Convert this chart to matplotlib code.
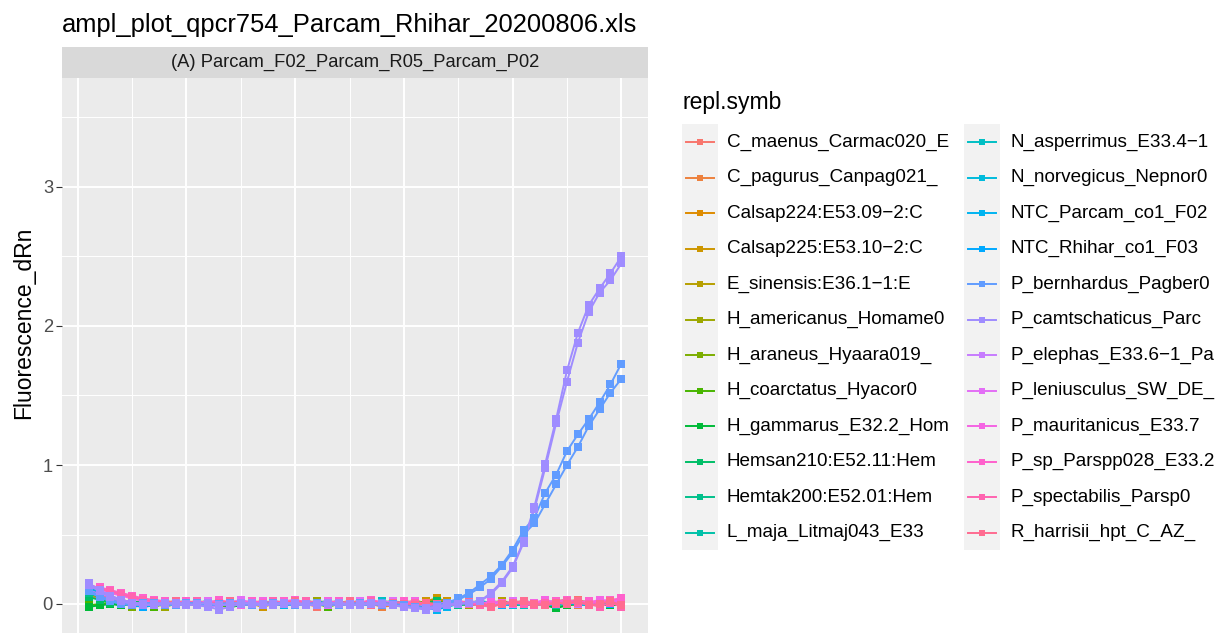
import numpy as np
import matplotlib
matplotlib.use("Agg")
import matplotlib.pyplot as plt
from matplotlib.patches import Rectangle

plt.rcParams["font.family"] = ["Liberation Sans", "DejaVu Sans"]

W, H = 1218, 633

CYCLES = np.arange(1, 51)

LABELS = [
    "C_maenus_Carmac020_E", "C_pagurus_Canpag021_", "Calsap224:E53.09\u22122:C",
    "Calsap225:E53.10\u22122:C", "E_sinensis:E36.1\u22121:E", "H_americanus_Homame0",
    "H_araneus_Hyaara019_", "H_coarctatus_Hyacor0", "H_gammarus_E32.2_Hom",
    "Hemsan210:E52.11:Hem", "Hemtak200:E52.01:Hem", "L_maja_Litmaj043_E33",
    "N_asperrimus_E33.4\u22121", "N_norvegicus_Nepnor0", "NTC_Parcam_co1_F02",
    "NTC_Rhihar_co1_F03", "P_bernhardus_Pagber0", "P_camtschaticus_Parc",
    "P_elephas_E33.6\u22121_Pa", "P_leniusculus_SW_DE_", "P_mauritanicus_E33.7",
    "P_sp_Parspp028_E33.2", "P_spectabilis_Parsp0", "R_harrisii_hpt_C_AZ_",
]

# fluorescence per cycle (1..50), one list per well
C_MAENUS = [
    0.08, 0.05, 0.03, 0.02, 0.01, 0.00, 0.01, -0.01, 0.00, 0.02,
    0.01, 0.00, -0.01, 0.01, 0.02, 0.00, -0.01, 0.01, 0.02, 0.01,
    0.00, -0.02, 0.01, 0.02, 0.00, -0.01, 0.01, 0.00, 0.02, 0.01,
    -0.01, -0.02, 0.00, 0.01, 0.02, 0.01, 0.00, -0.02, 0.01, 0.00,
    0.02, 0.01, -0.01, 0.00, 0.02, 0.03, 0.01, 0.00, 0.02, 0.03]
C_PAGURUS = [
    0.06, 0.04, 0.02, 0.01, -0.01, 0.00, 0.02, 0.01, -0.01, 0.00,
    0.01, 0.02, 0.00, -0.01, 0.00, 0.01, 0.02, 0.00, -0.01, 0.01,
    0.02, 0.01, 0.00, -0.01, 0.01, 0.02, 0.00, -0.02, -0.01, 0.01,
    0.02, 0.01, -0.01, 0.00, 0.01, 0.00, -0.01, 0.01, 0.02, 0.00,
    -0.01, 0.01, 0.02, 0.01, 0.00, -0.01, 0.01, 0.02, 0.00, 0.01]
CALSAP224 = [
    0.12, 0.08, 0.05, 0.03, 0.01, 0.00, -0.01, 0.01, 0.02, 0.00,
    -0.01, 0.00, 0.02, 0.01, -0.01, 0.00, 0.01, 0.02, 0.00, -0.01,
    0.01, 0.02, 0.01, 0.00, -0.01, 0.01, 0.02, 0.01, 0.00, 0.02,
    0.01, -0.01, 0.00, 0.02, 0.01, 0.00, 0.01, -0.01, 0.00, 0.01,
    0.02, 0.00, -0.01, 0.01, 0.02, 0.01, 0.00, 0.01, -0.01, 0.00]
CALSAP225 = [
    0.10, 0.07, 0.04, 0.02, 0.01, -0.01, 0.00, 0.02, 0.01, 0.00,
    0.02, 0.01, -0.01, 0.00, 0.01, 0.00, -0.02, 0.00, 0.01, 0.02,
    0.01, 0.00, 0.02, 0.01, -0.01, 0.00, 0.01, 0.02, 0.00, -0.01,
    0.00, 0.02, 0.04, 0.02, 0.01, 0.00, -0.01, 0.01, 0.02, 0.00,
    0.01, -0.01, 0.00, 0.02, 0.01, 0.00, 0.02, 0.01, 0.00, 0.01]
E_SINENSIS = [
    0.09, 0.06, 0.03, 0.01, 0.00, -0.02, -0.01, 0.00, 0.01, 0.02,
    0.00, -0.01, 0.01, 0.00, 0.01, 0.02, 0.00, -0.01, 0.00, 0.02,
    0.01, -0.01, 0.00, 0.01, 0.02, 0.00, 0.01, -0.01, 0.00, 0.01,
    0.02, 0.01, 0.03, 0.01, 0.00, -0.01, 0.01, 0.00, 0.02, 0.01,
    0.00, 0.01, -0.01, 0.01, 0.02, 0.01, 0.00, 0.02, 0.01, 0.00]
H_AMERICANUS = [
    0.07, 0.05, 0.02, 0.00, -0.01, 0.00, 0.01, -0.02, 0.00, 0.01,
    0.02, 0.00, 0.01, -0.01, 0.00, 0.02, 0.01, 0.00, -0.01, 0.01,
    0.00, 0.02, 0.01, -0.01, 0.00, 0.01, 0.00, 0.02, 0.01, 0.00,
    -0.01, 0.01, 0.02, 0.00, 0.01, -0.01, 0.00, 0.01, 0.00, 0.02,
    0.01, 0.00, 0.01, 0.02, 0.03, 0.01, 0.00, 0.01, 0.02, 0.01]
H_ARANEUS = [
    0.11, 0.07, 0.04, 0.01, -0.02, -0.01, 0.00, 0.01, -0.01, 0.00,
    0.01, 0.00, -0.02, -0.01, 0.01, 0.00, 0.01, -0.01, 0.00, 0.02,
    0.00, 0.01, -0.01, 0.00, 0.01, 0.02, 0.00, -0.01, 0.01, 0.00,
    0.02, 0.01, 0.00, -0.01, 0.00, 0.01, 0.02, 0.00, 0.01, -0.01,
    0.00, 0.01, 0.00, 0.02, 0.01, 0.00, -0.01, 0.01, 0.00, 0.01]
H_COARCTATUS = [
    -0.01, 0.00, 0.01, -0.01, 0.00, 0.01, -0.02, 0.00, 0.01, 0.00,
    -0.01, 0.01, 0.00, -0.02, -0.01, 0.00, 0.01, 0.00, -0.01, 0.00,
    0.01, 0.00, -0.02, 0.00, 0.01, -0.01, 0.00, 0.01, 0.00, -0.01,
    0.00, 0.01, -0.01, 0.00, 0.01, 0.00, -0.01, 0.00, 0.01, 0.00,
    -0.01, 0.00, 0.01, 0.00, -0.01, 0.01, 0.00, -0.01, 0.00, 0.01]
H_GAMMARUS = [
    -0.02, -0.01, 0.00, -0.01, 0.00, 0.01, 0.00, -0.01, 0.00, 0.01,
    0.00, -0.01, 0.00, -0.02, -0.01, 0.00, 0.00, -0.01, 0.01, 0.00,
    -0.01, 0.00, 0.01, 0.00, -0.01, 0.00, 0.01, -0.01, 0.00, 0.00,
    0.01, 0.00, -0.01, 0.00, 0.01, 0.00, -0.01, 0.00, 0.01, 0.00,
    -0.01, 0.00, -0.01, -0.03, -0.01, 0.00, 0.01, 0.00, -0.01, 0.00]
HEMSAN210 = [
    0.05, 0.03, 0.01, 0.00, 0.02, 0.01, -0.01, 0.00, 0.01, 0.02,
    0.00, -0.01, 0.00, 0.01, 0.02, 0.01, 0.00, -0.01, 0.01, 0.00,
    0.02, 0.01, 0.00, 0.01, -0.01, 0.00, 0.02, 0.01, 0.00, -0.01,
    0.00, 0.01, 0.02, 0.00, -0.01, 0.01, 0.00, 0.02, 0.01, 0.00,
    0.01, -0.01, 0.00, 0.01, 0.02, 0.00, 0.01, -0.01, 0.00, 0.01]
HEMTAK200 = [
    0.08, 0.05, 0.02, 0.00, -0.01, 0.01, 0.02, 0.00, -0.01, 0.00,
    0.01, 0.02, 0.00, 0.01, -0.01, 0.00, 0.01, 0.00, 0.02, 0.01,
    -0.01, 0.00, 0.01, 0.02, 0.00, -0.01, 0.00, 0.01, 0.02, 0.00,
    0.01, -0.01, 0.00, 0.01, -0.01, 0.00, 0.02, 0.01, 0.00, 0.01,
    -0.01, 0.00, 0.01, 0.02, 0.00, 0.01, 0.00, -0.01, 0.01, 0.02]
L_MAJA = [
    0.10, 0.07, 0.04, 0.02, 0.00, 0.01, -0.01, 0.00, 0.02, 0.01,
    0.00, 0.02, 0.01, -0.01, 0.00, 0.01, 0.00, 0.02, 0.01, 0.00,
    -0.01, 0.01, 0.02, 0.00, 0.01, 0.00, -0.01, 0.01, 0.02, 0.00,
    0.01, 0.00, -0.02, 0.00, 0.01, 0.02, 0.00, -0.01, 0.01, 0.00,
    0.02, 0.01, 0.00, -0.01, 0.00, 0.01, 0.02, 0.00, 0.01, 0.00]
N_ASPERRIMUS = [
    0.12, 0.08, 0.05, 0.03, 0.01, 0.00, 0.02, 0.01, -0.01, 0.00,
    0.01, 0.02, 0.00, -0.01, 0.01, 0.00, 0.02, 0.01, 0.00, -0.01,
    0.00, 0.01, 0.02, 0.00, 0.01, -0.01, 0.00, 0.02, 0.01, 0.00,
    -0.01, -0.02, -0.03, -0.01, 0.00, 0.01, 0.02, 0.00, 0.01, 0.00,
    -0.01, 0.01, 0.00, 0.02, 0.01, 0.00, -0.01, 0.01, 0.00, 0.02]
N_NORVEGICUS = [
    0.09, 0.05, 0.03, 0.01, 0.00, -0.01, 0.00, 0.02, 0.01, 0.00,
    -0.01, 0.01, 0.00, 0.02, 0.01, -0.01, 0.00, 0.01, 0.00, 0.02,
    0.01, 0.00, -0.01, 0.00, 0.01, 0.02, 0.00, 0.01, -0.01, 0.00,
    0.01, -0.01, -0.02, 0.00, 0.01, 0.00, 0.02, 0.01, 0.00, -0.01,
    0.01, 0.00, 0.02, 0.01, 0.00, 0.01, -0.01, 0.00, 0.01, 0.02]
NTC_PARCAM = [
    0.13, 0.09, 0.05, 0.02, 0.00, -0.02, 0.00, 0.01, 0.00, -0.01,
    0.01, 0.00, -0.01, 0.01, 0.00, -0.01, 0.00, 0.01, -0.01, 0.00,
    0.01, 0.00, -0.01, 0.00, 0.01, 0.00, -0.01, 0.00, 0.01, -0.01,
    -0.02, -0.03, -0.04, -0.02, 0.00, 0.01, 0.00, -0.01, 0.00, 0.01,
    0.00, -0.01, 0.01, 0.00, 0.01, 0.00, -0.01, 0.01, 0.00, 0.01]
NTC_RHIHAR = [
    0.11, 0.07, 0.04, 0.01, -0.01, -0.02, -0.01, 0.00, 0.01, 0.00,
    -0.01, 0.00, 0.01, 0.00, -0.01, 0.00, 0.01, -0.01, 0.00, 0.00,
    0.01, -0.01, 0.00, 0.01, 0.00, -0.01, 0.00, 0.01, 0.00, -0.01,
    -0.02, -0.03, -0.03, -0.01, 0.00, 0.01, 0.00, 0.01, -0.01, 0.00,
    0.01, 0.00, -0.01, 0.00, 0.01, 0.00, 0.01, 0.00, 0.00, 0.01]
P_BERNHARDUS_1 = [
    0.10, 0.06, 0.03, 0.01, -0.01, 0.00, 0.01, 0.00, -0.01, 0.00,
    0.01, 0.00, -0.01, 0.00, 0.01, 0.00, -0.01, 0.00, 0.01, 0.00,
    -0.01, 0.00, 0.01, 0.00, -0.01, 0.00, 0.00, 0.01, 0.00, -0.01,
    -0.02, -0.03, -0.01, 0.01, 0.04, 0.08, 0.14, 0.20, 0.28, 0.39,
    0.53, 0.62, 0.80, 0.93, 1.10, 1.22, 1.33, 1.45, 1.58, 1.73]
P_BERNHARDUS_2 = [
    0.09, 0.05, 0.02, 0.00, -0.01, 0.01, 0.00, -0.01, 0.00, 0.01,
    0.00, -0.01, 0.00, 0.01, 0.00, -0.01, 0.00, 0.01, 0.00, -0.01,
    0.00, 0.01, 0.00, -0.01, 0.00, 0.01, 0.00, -0.01, 0.00, -0.01,
    -0.02, -0.03, -0.02, 0.00, 0.03, 0.07, 0.12, 0.18, 0.27, 0.37,
    0.50, 0.58, 0.72, 0.86, 1.00, 1.13, 1.28, 1.40, 1.52, 1.62]
P_CAMTSCHATICUS_1 = [
    0.15, 0.10, 0.06, 0.03, 0.01, 0.00, -0.01, 0.00, 0.01, 0.00,
    -0.01, -0.02, -0.04, -0.02, 0.00, 0.01, 0.00, -0.01, 0.00, 0.01,
    0.00, -0.01, 0.00, 0.01, 0.00, -0.01, 0.00, 0.00, -0.01, -0.02,
    -0.03, -0.04, -0.03, -0.01, 0.00, 0.01, 0.02, 0.08, 0.16, 0.27,
    0.45, 0.70, 1.01, 1.33, 1.68, 1.95, 2.15, 2.27, 2.38, 2.50]
P_CAMTSCHATICUS_2 = [
    0.14, 0.09, 0.05, 0.02, 0.00, -0.01, 0.00, 0.01, 0.00, -0.01,
    0.00, 0.01, -0.01, 0.00, 0.01, 0.00, -0.01, 0.00, 0.01, 0.00,
    -0.01, 0.00, 0.01, 0.00, -0.01, 0.00, 0.01, 0.00, -0.01, -0.02,
    -0.03, -0.03, -0.02, 0.00, 0.00, 0.01, 0.02, 0.07, 0.15, 0.26,
    0.44, 0.68, 0.98, 1.30, 1.60, 1.88, 2.10, 2.24, 2.33, 2.45]
P_ELEPHAS = [
    0.15, 0.10, 0.06, 0.03, 0.01, 0.00, -0.01, 0.00, 0.02, 0.01,
    0.00, -0.02, -0.01, 0.00, 0.01, 0.00, -0.01, 0.01, 0.02, 0.00,
    -0.01, 0.00, 0.01, 0.00, 0.02, 0.01, 0.00, -0.01, 0.00, 0.01,
    0.00, -0.01, 0.00, 0.01, 0.02, 0.00, -0.01, 0.01, 0.00, 0.02,
    0.01, 0.00, -0.01, 0.01, 0.02, 0.00, 0.01, 0.02, 0.01, 0.02]
P_LENIUSCULUS = [
    0.10, 0.07, 0.05, 0.03, 0.01, 0.00, 0.02, 0.01, 0.00, -0.01,
    0.01, 0.02, 0.00, 0.01, 0.03, 0.01, 0.00, 0.02, 0.01, 0.00,
    0.02, 0.01, -0.01, 0.00, 0.01, 0.02, 0.00, 0.01, 0.02, 0.00,
    0.01, -0.01, 0.00, 0.01, 0.02, 0.00, 0.01, -0.01, 0.00, 0.02,
    0.01, 0.00, 0.02, 0.01, 0.03, 0.01, 0.00, 0.02, 0.03, 0.02]
P_MAURITANICUS = [
    0.14, 0.11, 0.08, 0.06, 0.04, 0.02, 0.01, 0.00, 0.02, 0.01,
    0.00, 0.01, 0.02, 0.00, -0.01, 0.01, 0.02, 0.00, 0.01, 0.03,
    0.01, 0.00, 0.02, 0.01, -0.01, 0.00, 0.02, 0.01, 0.00, 0.01,
    0.02, 0.00, -0.01, 0.01, 0.02, 0.01, 0.00, 0.02, 0.01, 0.00,
    0.02, 0.01, 0.03, 0.01, 0.00, 0.02, 0.01, 0.03, 0.02, 0.01]
P_SP = [
    0.13, 0.12, 0.10, 0.08, 0.06, 0.04, 0.03, 0.02, 0.01, 0.02,
    0.00, 0.01, 0.03, 0.01, 0.00, 0.02, 0.01, 0.00, 0.02, 0.03,
    0.01, 0.00, 0.01, 0.02, 0.00, 0.01, 0.03, 0.01, 0.00, 0.02,
    0.01, 0.00, -0.01, 0.01, 0.00, 0.02, 0.01, -0.01, 0.00, 0.01,
    0.02, 0.00, 0.01, 0.02, 0.03, 0.01, 0.02, 0.00, 0.03, 0.04]
P_SPECTABILIS = [
    0.12, 0.11, 0.09, 0.07, 0.05, 0.03, 0.02, 0.01, 0.00, 0.01,
    0.02, 0.00, 0.01, 0.02, 0.00, -0.01, 0.00, 0.02, 0.01, 0.00,
    0.02, 0.01, 0.00, -0.01, 0.01, 0.00, 0.02, 0.00, -0.01, 0.00,
    0.01, 0.00, -0.02, 0.00, 0.01, 0.00, -0.01, -0.02, 0.00, 0.01,
    0.00, -0.01, 0.01, 0.00, 0.02, 0.01, 0.00, -0.02, 0.01, -0.02]
R_HARRISII = [
    0.09, 0.06, 0.04, 0.02, 0.00, -0.01, 0.00, 0.01, 0.02, 0.00,
    -0.01, 0.01, 0.00, 0.02, 0.01, 0.00, -0.01, 0.00, 0.01, 0.02,
    0.00, -0.01, 0.01, 0.00, 0.02, 0.01, -0.01, 0.00, 0.01, 0.00,
    -0.01, 0.01, 0.00, -0.01, 0.00, 0.02, 0.01, -0.02, 0.00, 0.01,
    0.02, 0.00, -0.01, 0.01, 0.00, 0.02, -0.01, 0.00, 0.02, -0.01]

# (legend index, values) per well
WELLS = [
    (0, C_MAENUS), (1, C_PAGURUS), (2, CALSAP224), (3, CALSAP225),
    (4, E_SINENSIS), (5, H_AMERICANUS), (6, H_ARANEUS), (7, H_COARCTATUS),
    (8, H_GAMMARUS), (9, HEMSAN210), (10, HEMTAK200), (11, L_MAJA),
    (12, N_ASPERRIMUS), (13, N_NORVEGICUS), (14, NTC_PARCAM), (15, NTC_RHIHAR),
    (18, P_ELEPHAS), (19, P_LENIUSCULUS), (20, P_MAURITANICUS), (21, P_SP),
    (22, P_SPECTABILIS), (23, R_HARRISII),
    (16, P_BERNHARDUS_1), (16, P_BERNHARDUS_2),
    (17, P_CAMTSCHATICUS_1), (17, P_CAMTSCHATICUS_2),
]


def hcl_hex(h, c=100.0, l=65.0):
    # polar Luv -> sRGB, same as R's hcl()
    hr = np.deg2rad(h)
    u, v = c * np.cos(hr), c * np.sin(hr)
    xn, yn, zn = 95.047, 100.0, 108.883
    un = 4 * xn / (xn + 15 * yn + 3 * zn)
    vn = 9 * yn / (xn + 15 * yn + 3 * zn)
    y = yn * ((l + 16) / 116) ** 3
    up = u / (13 * l) + un
    vp = v / (13 * l) + vn
    x = 9 * y * up / (4 * vp)
    z = -x / 3 - 5 * y + 3 * y / vp
    m = np.array([[3.240479, -1.537150, -0.498535],
                  [-0.969256, 1.875992, 0.041556],
                  [0.055648, -0.204043, 1.057311]])
    rgb = m @ np.array([x, y, z]) / 100
    out = []
    for ch in rgb:
        ch = 1.055 * ch ** (1 / 2.4) - 0.055 if ch > 0.0031308 else 12.92 * ch
        out.append(min(max(ch, 0), 1))
    return tuple(out)


HUES = np.linspace(15, 375, len(LABELS) + 1)[:-1]
PALETTE = [hcl_hex(h) for h in HUES]

# pixel layout of the panel
PX_LEFT, PX_RIGHT, PX_TOP = 62, 648, 78
Y0_PX, PX_PER_UNIT = 604, 139
YMIN, YMAX = -0.25, (Y0_PX - PX_TOP) / PX_PER_UNIT
px_bottom = Y0_PX - YMIN * PX_PER_UNIT

fig = plt.figure(figsize=(W / 100, H / 100), dpi=100)
fig.patch.set_facecolor("white")

ax = fig.add_axes([PX_LEFT / W, (H - px_bottom) / H,
                   (PX_RIGHT - PX_LEFT) / W, (px_bottom - PX_TOP) / H])
ax.set_facecolor("#EBEBEB")
for s in ax.spines.values():
    s.set_visible(False)
ax.set_xlim(-1.45, 52.45)
ax.set_ylim(YMIN, YMAX)
ax.set_xticks([0, 10, 20, 30, 40, 50])
ax.set_xticks([5, 15, 25, 35, 45], minor=True)
ax.set_yticks([0, 1, 2, 3])
ax.set_yticks([0.5, 1.5, 2.5, 3.5], minor=True)
ax.grid(which="major", color="white", linewidth=1.4)
ax.grid(which="minor", color="white", linewidth=0.7)
ax.set_axisbelow(True)
ax.tick_params(axis="x", which="both", length=0, labelbottom=False)
ax.tick_params(axis="y", which="major", length=4, width=0.8, color="#333333",
               labelsize=13.2, labelcolor="#4D4D4D", pad=2.5)
ax.tick_params(axis="y", which="minor", length=0)

for idx, vals in WELLS:
    ax.plot(CYCLES, vals, color=PALETTE[idx], linewidth=1.4, zorder=2)
for idx, vals in WELLS:
    ax.plot(CYCLES, vals, color=PALETTE[idx], linestyle="none", marker="s",
            markersize=5.6, markeredgewidth=0, zorder=3)

# overlay in pixel coordinates for title, strip, axis title and legend
ov = fig.add_axes([0, 0, 1, 1], zorder=5)
ov.set_xlim(0, W)
ov.set_ylim(H, 0)
ov.axis("off")

ov.text(PX_LEFT, 32, "ampl_plot_qpcr754_Parcam_Rhihar_20200806.xls",
        fontsize=18.4, color="black", ha="left", va="baseline")
ov.add_patch(Rectangle((PX_LEFT, 47), PX_RIGHT - PX_LEFT, PX_TOP - 47,
                       facecolor="#D9D9D9", edgecolor="none"))
ov.text((PX_LEFT + PX_RIGHT) / 2, 62.5, "(A) Parcam_F02_Parcam_R05_Parcam_P02",
        fontsize=13.2, color="#1A1A1A", ha="center", va="center")
ov.text(24, 323, "Fluorescence_dRn", fontsize=16.5, color="black",
        rotation=90, ha="center", va="center")

ov.text(683, 103, "repl.symb", fontsize=16.5, color="black", ha="left", va="center")
ROW_H = 35.5
ROW0 = 142
COLS = [(682, 727), (964, 1010)]
n_rows = 12
for i, lab in enumerate(LABELS):
    col, row = divmod(i, n_rows)
    kx, tx = COLS[col]
    cy = ROW0 + row * ROW_H
    ov.add_patch(Rectangle((kx, cy - ROW_H / 2), 36, ROW_H,
                           facecolor="#F2F2F2", edgecolor="none"))
    ov.plot([kx + 4, kx + 32], [cy, cy], color=PALETTE[i], linewidth=1.4)
    ov.plot([kx + 18], [cy], color=PALETTE[i], marker="s", markersize=4.2,
            markeredgewidth=0)
    ov.text(tx, cy, lab, fontsize=13.6, color="black", ha="left", va="center")

fig.savefig("out.png", dpi=100, facecolor="white")
